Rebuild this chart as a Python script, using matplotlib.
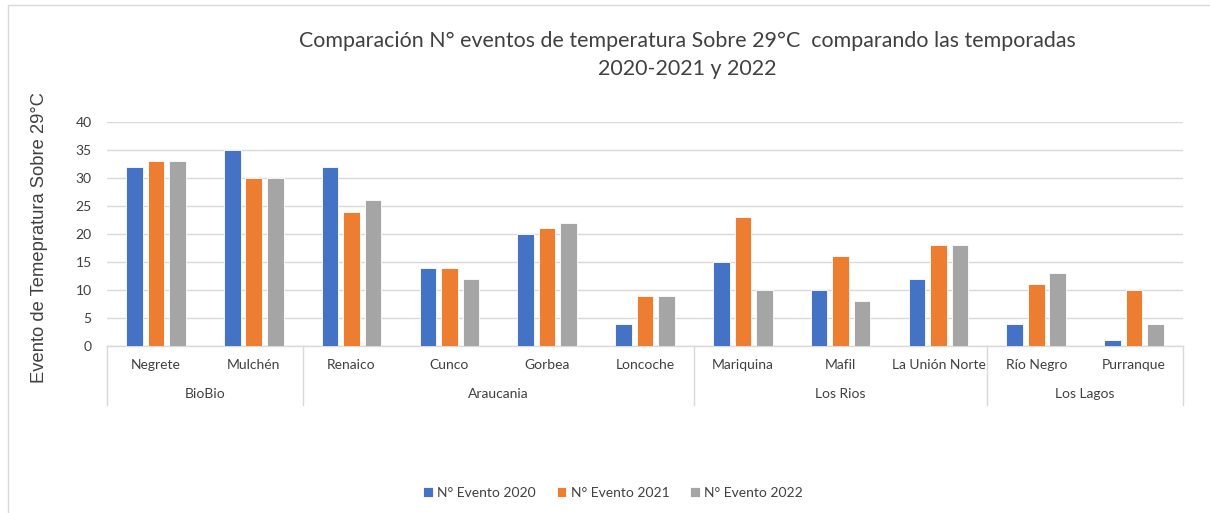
import matplotlib
matplotlib.use("Agg")
import matplotlib.pyplot as plt
import numpy as np
from matplotlib.lines import Line2D
import matplotlib.transforms as mtransforms

categories = ["Negrete", "Mulchén", "Renaico", "Cunco", "Gorbea", "Loncoche",
              "Mariquina", "Mafil", "La Unión Norte", "Río Negro", "Purranque"]
groups = ["BioBio", "Araucania", "Los Rios", "Los Lagos"]
group_sizes = [2, 4, 3, 2]
ev2020 = [32, 35, 32, 14, 20, 4, 15, 10, 12, 4, 1]
ev2021 = [33, 30, 24, 14, 21, 9, 23, 16, 18, 11, 10]
ev2022 = [33, 30, 26, 12, 22, 9, 10, 8, 18, 13, 4]
series_labels = ["N° Evento 2020", "N° Evento 2021", "N° Evento 2022"]
colors = ["#4472C4", "#ED7D31", "#A5A5A5"]
yticks = [0, 5, 10, 15, 20, 25, 30, 35, 40]

FONT = ["Lato", "DejaVu Sans"]
plt.rcParams['font.family'] = FONT

fig = plt.figure(figsize=(12.10, 5.13), dpi=100)
ax = fig.add_axes([107/1210, 1-346/513, (1183-107)/1210, (346-122)/513])

x = np.arange(len(categories))
step = 0.22
width = 0.17
for i, (vals, lab, c) in enumerate(zip([ev2020, ev2021, ev2022], series_labels, colors)):
    ax.bar(x + (i-1)*step, vals, width=width, color=c, label=lab,
           edgecolor="white", linewidth=0.6, zorder=3)

ax.set_xlim(-0.5, len(categories)-0.5)
ax.set_ylim(0, 40)
ax.set_yticks(yticks)
ax.set_yticklabels([str(t) for t in yticks], fontsize=10, color="#404040")
ax.tick_params(axis='y', length=0, pad=11)
ax.tick_params(axis='x', length=0, labelbottom=False)
ax.grid(axis='y', color="#D9D9D9", linewidth=1, zorder=0)
ax.set_axisbelow(True)
for s in ["top", "right", "left"]:
    ax.spines[s].set_visible(False)
ax.spines["bottom"].set_color("#D9D9D9")
ax.spines["bottom"].set_linewidth(1)

trans = mtransforms.blended_transform_factory(ax.transData, ax.transAxes)
# category labels
for xi, cat in zip(x, categories):
    ax.text(xi, -0.085, cat, transform=trans, ha='center', va='center',
            fontsize=10, color="#404040")
# group labels and separators
bounds = np.concatenate([[0], np.cumsum(group_sizes)]) - 0.5
for b in bounds:
    ax.plot([b, b], [0, -0.265], transform=trans, color="#D9D9D9",
            linewidth=1, clip_on=False)
for g, lo, hi in zip(groups, bounds[:-1], bounds[1:]):
    ax.text((lo+hi)/2, -0.215, g, transform=trans, ha='center', va='center',
            fontsize=10, color="#404040")

fig.text(687/1210, 1-41/513, "Comparación N° eventos de temperatura Sobre 29°C  comparando las temporadas",
         ha='center', va='center', fontsize=15.4, color="#404040")
fig.text(687/1210, 1-69/513, "2020-2021 y 2022",
         ha='center', va='center', fontsize=15.4, color="#404040")

fig.text(40/1210, 1-238/513, "Evento de Temepratura Sobre 29°C", rotation=90,
         ha='center', va='center', fontsize=13.2, color="#404040",
         family=["Liberation Sans", "DejaVu Sans"])

leg = fig.legend(loc='center', bbox_to_anchor=(613/1210, 1-493/513), ncol=3,
                 frameon=False, fontsize=10, handlelength=0.7, handleheight=0.7,
                 handletextpad=0.3, columnspacing=1.5)
for t in leg.get_texts():
    t.set_color("#404040")

# figure border (top and left)
fig.lines.append(Line2D([8/1210, 8/1210, 1.0], [0, 1-5/513, 1-5/513],
                        transform=fig.transFigure, color="#D9D9D9", linewidth=1))

fig.savefig("out.png", dpi=100)
